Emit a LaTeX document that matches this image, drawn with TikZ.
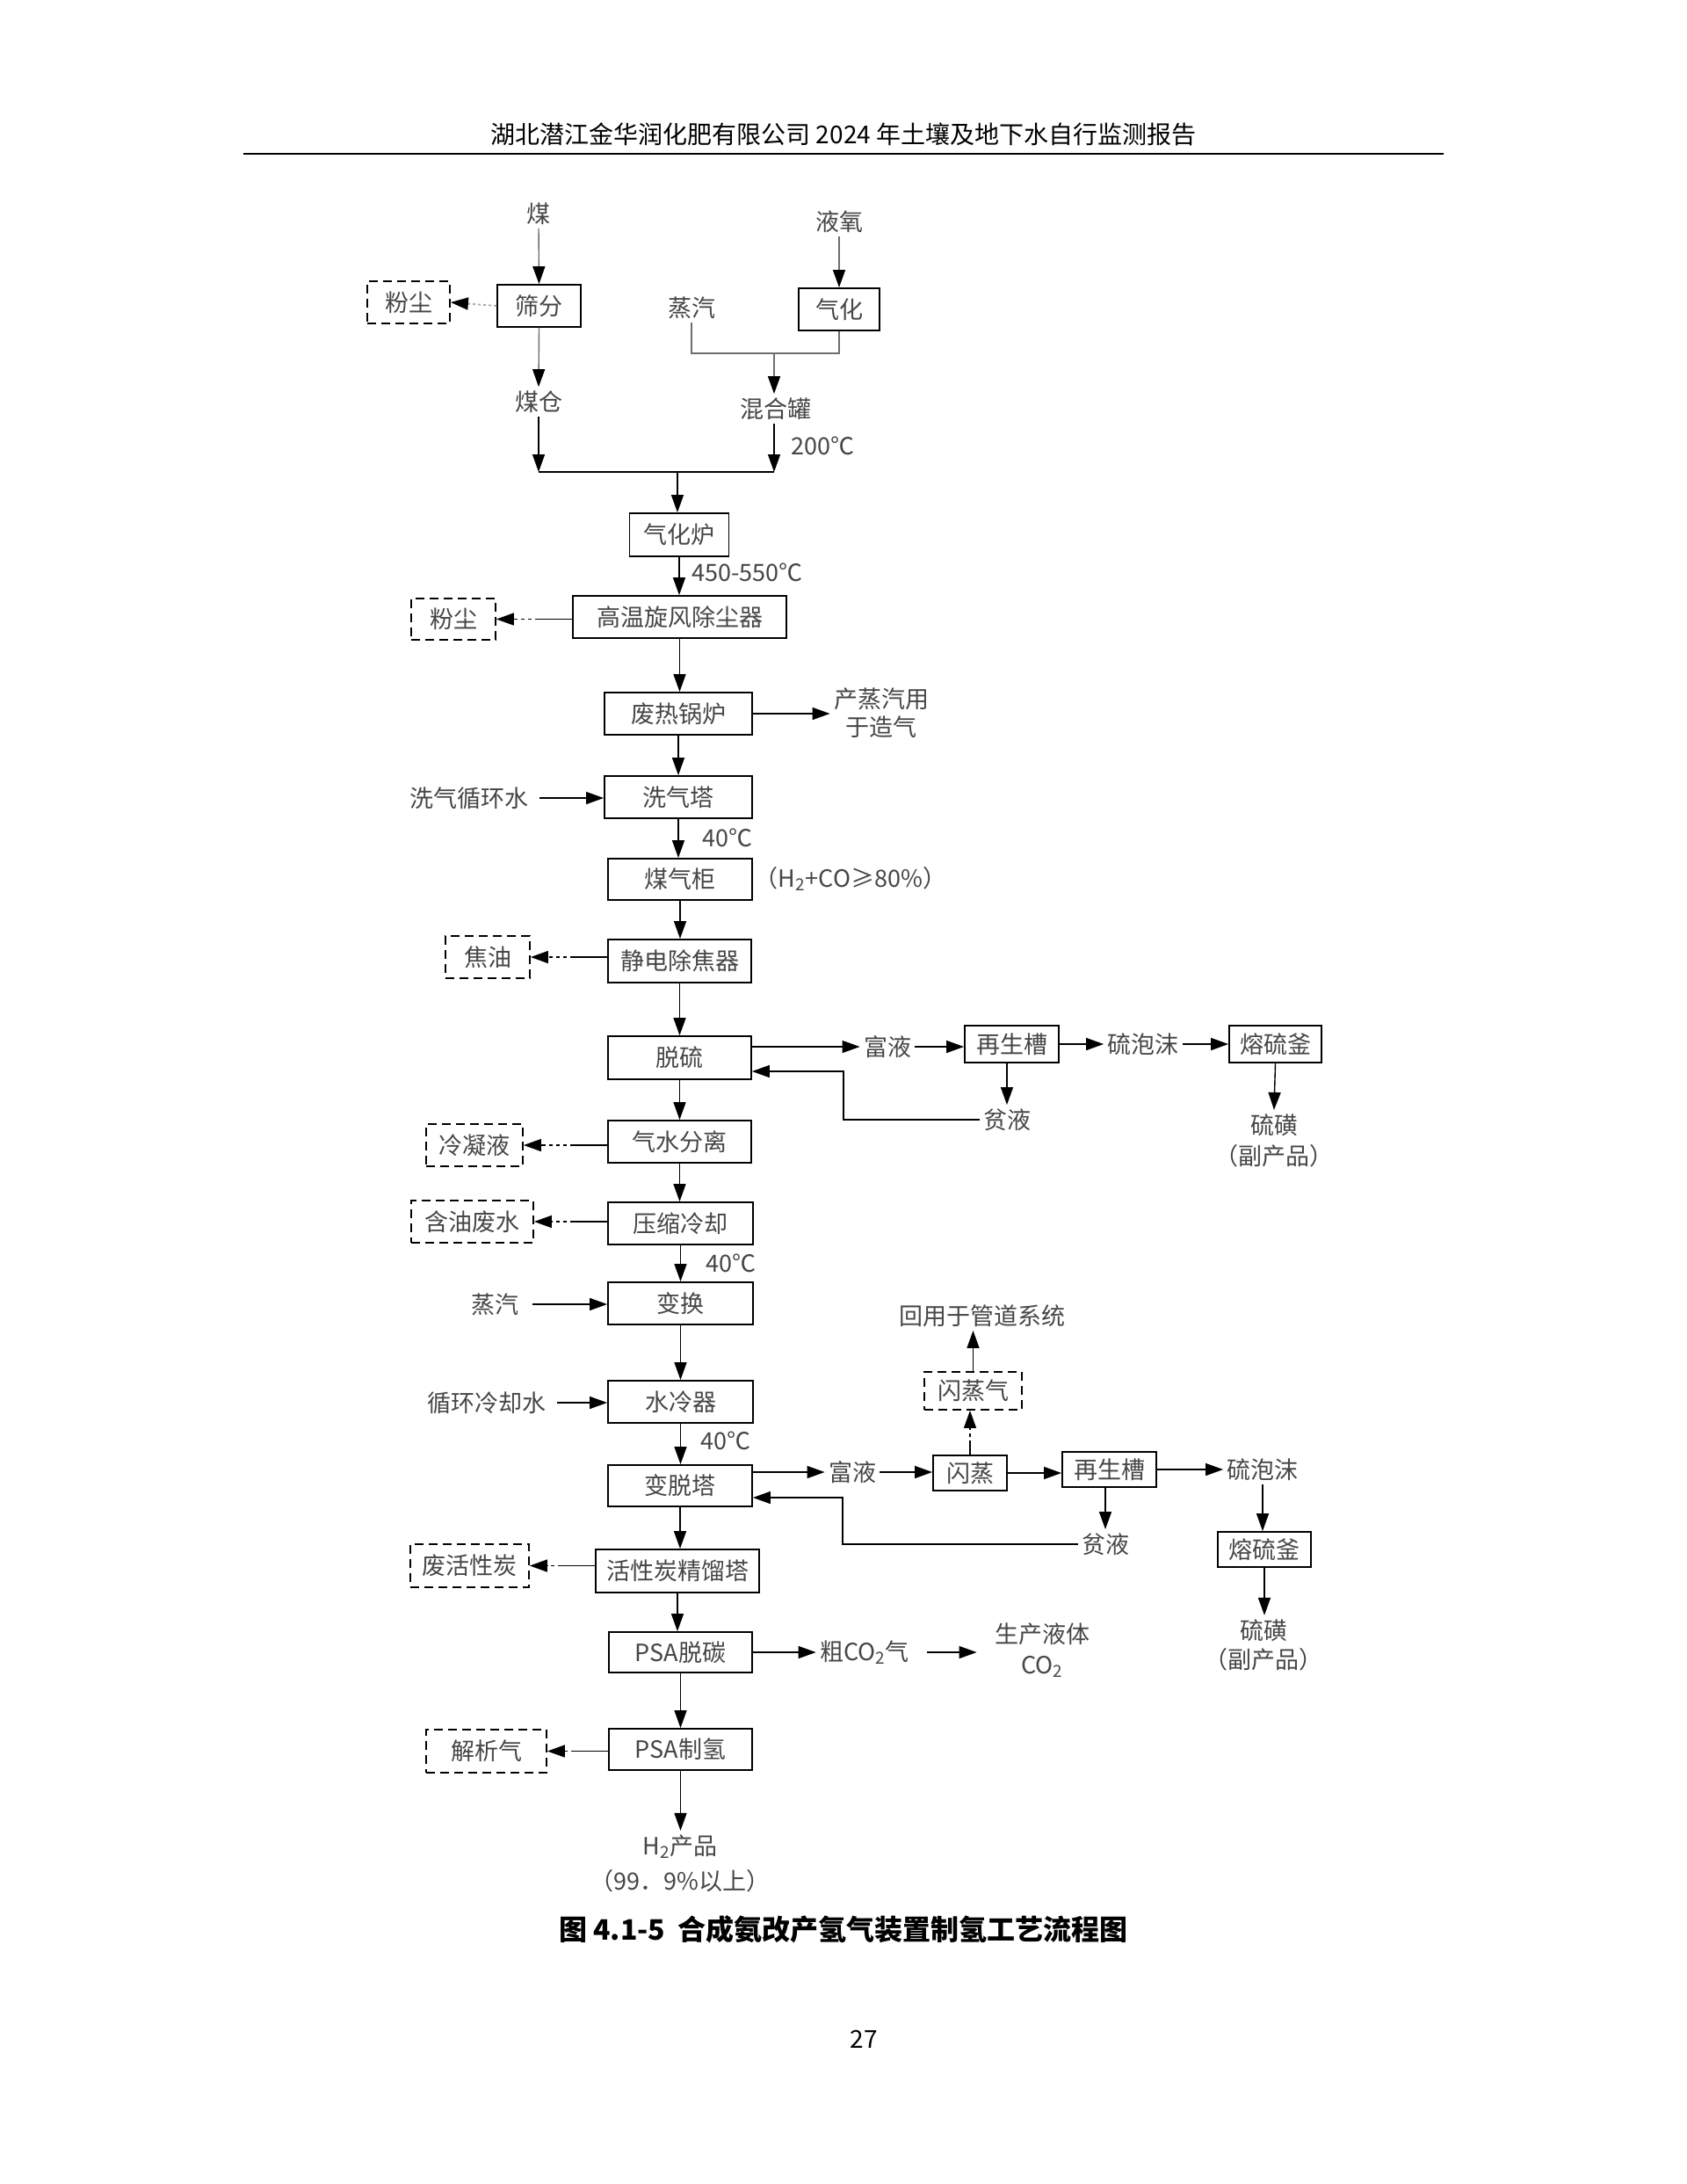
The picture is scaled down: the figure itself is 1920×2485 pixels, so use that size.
\documentclass[tikz,border=0pt]{standalone}
\usepackage{fontspec}
\setmainfont{Noto Sans CJK SC}
\usetikzlibrary{arrows.meta,calc}
\definecolor{txt}{RGB}{70,70,70}
\definecolor{lgray}{RGB}{110,110,110}
\definecolor{dgray}{RGB}{170,170,170}
\newcommand{\fs}{\fontsize{13.5pt}{17.5pt}\selectfont}
\begin{document}
\begin{tikzpicture}[x=0.5pt,y=-0.5pt,
  box/.style={draw, line width=0.9pt, inner sep=0pt, font=\fs, text=txt},
  dbox/.style={draw, line width=0.9pt, dash pattern=on 5pt off 3pt, inner sep=0pt, font=\fs, text=txt},
  lbl/.style={inner sep=2pt, font=\fs, text=txt, align=center},
  arr/.style={line width=0.7pt, -{Triangle[length=10pt,width=7pt]}},
  gline/.style={line width=0.7pt, draw=lgray},
  garr/.style={line width=0.7pt, draw=lgray, -{Triangle[length=10pt,width=7pt,color=black]}},
  gdot/.style={line width=0.9pt, draw=dgray, dash pattern=on 1.5pt off 1.5pt, -{Triangle[length=10pt,width=7pt,color=black]}},
  warr/.style={arr, dash pattern=on 21pt off 2pt on 2pt off 2pt on 2pt off 2pt on 2pt off 2pt on 30pt off 1pt},
]
\fill[white] (0,0) rectangle (1920,2485);
\useasboundingbox (0,0) rectangle (1920,2485);

% header
\node[font=\fontsize{14pt}{16pt}\selectfont] (hdr) at (960,153) {湖北潜江金华润化肥有限公司 2024 年土壤及地下水自行监测报告};
\draw[line width=1.2pt] (277,175) -- (1643,175);

% ---------- top part ----------
\node[lbl] (mei) at (613,243) {煤};
\node[box, minimum width=47.5pt, minimum height=24pt] (shaifen) at (613.5,348) {筛分};
\node[dbox, minimum width=47pt, minimum height=24pt] (fc1) at (465,344) {粉尘};
\node[lbl] (meicang) at (613,457) {煤仓};
\node[lbl] (yeyang) at (955,252) {液氧};
\node[box, minimum width=46pt, minimum height=24pt] (qihua) at (955,352) {气化};
\node[lbl] (zq1) at (787,350) {蒸汽};
\node[lbl] (hunhe) at (883,465) {混合罐};
\node[lbl, anchor=west] (t200) at (896,507) {200℃};
\coordinate (jl) at (613,537);
\coordinate (jr) at (881,537);
\coordinate (jm) at (771,537);
\coordinate (zjm) at (881,402);

\draw[garr] (mei.south) -- (shaifen.north);
\draw[garr] (shaifen.south) -- (meicang.north);
\draw[gdot] (shaifen.west) -- (fc1.east);
\draw[garr] (yeyang.south) -- (qihua.north);
\draw[gline] (zq1.south) -- (zq1.south |- zjm) -- (qihua.south |- zjm) -- (qihua.south);
\draw[garr] (zjm) -- (zjm |- hunhe.north);
\draw[arr] (meicang.south) -- (jl);
\draw[arr] (jr |- hunhe.south) -- (jr);
\draw[line width=0.7pt] (jl) -- (jr);

% ---------- main column ----------
\node[box, minimum width=56.5pt, minimum height=24.5pt] (qihualu) at (773,608.5) {气化炉};
\draw[arr] (jm) -- (jm |- qihualu.north);
\node[lbl, anchor=west] (t450) at (783,651) {450-550℃};
\node[box, minimum width=121.5pt, minimum height=24pt] (gaowen) at (773.5,702) {高温旋风除尘器};
\node[dbox, minimum width=48pt, minimum height=23.5pt] (fc2) at (516,704.5) {粉尘};
\node[box, minimum width=84pt, minimum height=24pt] (feire) at (772,812) {废热锅炉};
\node[lbl, font=\fontsize{13.5pt}{16pt}\selectfont] (czq) at (1003,811) {产蒸汽用\\于造气};
\node[box, minimum width=84pt, minimum height=24pt] (xiqita) at (772,907) {洗气塔};
\node[lbl] (xqxh) at (534,908) {洗气循环水};
\node[lbl, anchor=west] (t40a) at (795,953) {40℃};
\node[box, minimum width=82pt, minimum height=23.5pt] (meiqigui) at (774,1000.5) {煤气柜};
\node[lbl] (h2co) at (968,1000) {（H\textsubscript{2}+CO≥80\%）};
\node[box, minimum width=81.5pt, minimum height=24.5pt] (jingdian) at (773.5,1093.5) {静电除焦器};
\node[dbox, minimum width=48pt, minimum height=24pt] (jiaoyou) at (555,1089) {焦油};
\node[box, minimum width=81.5pt, minimum height=24.5pt] (tuoliu) at (773.5,1203.5) {脱硫};
\node[lbl] (fuye1) at (1010,1191) {富液};
\node[box, minimum width=53.5pt, minimum height=21pt] (zs1) at (1151.5,1188) {再生槽};
\node[lbl] (lpm1) at (1301,1188) {硫泡沫};
\node[box, minimum width=52.5pt, minimum height=21pt] (rl1) at (1451.5,1188) {熔硫釜};
\node[lbl] (lh1) at (1450,1297.5) {硫磺\\（副产品）};
\node[lbl] (pinye1) at (1146,1274) {贫液};
\coordinate (r1) at (960,1219);
\node[box, minimum width=81.5pt, minimum height=24pt] (qishui) at (773.5,1299) {气水分离};
\node[dbox, minimum width=55pt, minimum height=24pt] (lengning) at (540,1303) {冷凝液};
\node[box, minimum width=82.5pt, minimum height=24pt] (yasuo) at (774.5,1392) {压缩冷却};
\node[dbox, minimum width=69.5pt, minimum height=24pt] (hanyou) at (537.5,1390) {含油废水};
\node[lbl, anchor=west] (t40b) at (799,1437) {40℃};
\node[box, minimum width=82.5pt, minimum height=24pt] (bianhuan) at (774.5,1483) {变换};
\node[lbl] (zq2) at (563,1484) {蒸汽};
\node[box, minimum width=82.5pt, minimum height=24pt] (shuileng) at (774.5,1595) {水冷器};
\node[lbl] (xhls) at (554,1596) {循环冷却水};
\node[lbl, anchor=west] (t40c) at (793,1639) {40℃};
\node[box, minimum width=82pt, minimum height=23.5pt] (biantuo) at (774,1690.5) {变脱塔};
\node[lbl] (fuye2) at (970,1675) {富液};
\node[box, minimum width=42pt, minimum height=20pt] (shanzheng) at (1104,1676) {闪蒸};
\node[dbox, minimum width=55.5pt, minimum height=21.5pt] (sqq) at (1107.5,1582.5) {闪蒸气};
\node[lbl] (huiyong) at (1118,1497) {回用于管道系统};
\node[box, minimum width=53.5pt, minimum height=20pt] (zs2) at (1262.5,1672) {再生槽};
\node[lbl] (lpm2) at (1437,1672) {硫泡沫};
\node[box, minimum width=53pt, minimum height=20pt] (rl2) at (1439,1763) {熔硫釜};
\node[lbl, font=\fontsize{13.5pt}{16.5pt}\selectfont] (lh2) at (1438,1871.5) {硫磺\\（副产品）};
\node[lbl] (pinye2) at (1258,1757) {贫液};
\coordinate (r2) at (959,1704);
\node[box, minimum width=93pt, minimum height=24.5pt] (huoxing) at (771,1787.5) {活性炭精馏塔};
\node[dbox, minimum width=67.5pt, minimum height=24.5pt] (feihx) at (534.5,1781.5) {废活性炭};
\node[box, minimum width=81.5pt, minimum height=23pt] (psa1) at (774.5,1880) {PSA脱碳};
\node[lbl] (cuco2) at (984,1880) {粗CO\textsubscript{2}气};
\node[lbl] (shengchan) at (1186,1877.5) {生产液体\\CO\textsubscript{2}};
\node[box, minimum width=81.5pt, minimum height=23.5pt] (psa2) at (774.5,1990.5) {PSA制氢};
\node[dbox, minimum width=68.5pt, minimum height=24.5pt] (jiexi) at (553.5,1992.5) {解析气};
\node[lbl, font=\fontsize{13.5pt}{20pt}\selectfont] (h2) at (774,2120) {H\textsubscript{2}产品\\（99．9\%以上）};

% main chain arrows
\draw[arr] (qihualu.south) -- (qihualu.south |- gaowen.north);
\draw[arr] (gaowen.south) -- (gaowen.south |- feire.north);
\draw[arr] (feire.south) -- (feire.south |- xiqita.north);
\draw[arr] (xiqita.south) -- (xiqita.south |- meiqigui.north);
\draw[arr] (meiqigui.south) -- (meiqigui.south |- jingdian.north);
\draw[arr] (jingdian.south) -- (jingdian.south |- tuoliu.north);
\draw[arr] (tuoliu.south) -- (tuoliu.south |- qishui.north);
\draw[arr] (qishui.south) -- (qishui.south |- yasuo.north);
\draw[arr] (yasuo.south) -- (yasuo.south |- bianhuan.north);
\draw[arr] (bianhuan.south) -- (bianhuan.south |- shuileng.north);
\draw[arr] (shuileng.south) -- (shuileng.south |- biantuo.north);
\draw[arr] (biantuo.south) -- (biantuo.south |- huoxing.north);
\draw[arr] (huoxing.south) -- (huoxing.south |- psa1.north);
\draw[arr] (psa1.south) -- (psa1.south |- psa2.north);
\draw[arr] (psa2.south) -- (psa2.south |- h2.north);

% side inputs / outputs
\draw[arr] (feire.east) -- (czq.west |- feire.east);
\draw[arr, shorten <=4pt] (xqxh.east) -- (xiqita.west |- xqxh.east);
\draw[arr, shorten <=6pt] (zq2.east) -- (bianhuan.west |- zq2.east);
\draw[arr, shorten <=4pt] (xhls.east) -- (shuileng.west |- xhls.east);

% waste arrows
\draw[warr] (fc2.east -| gaowen.west) -- (fc2.east);
\draw[warr] (jiaoyou.east -| jingdian.west) -- (jiaoyou.east);
\draw[warr] (lengning.east -| qishui.west) -- (lengning.east);
\draw[warr] (hanyou.east -| yasuo.west) -- (hanyou.east);
\draw[warr] (feihx.east -| huoxing.west) -- (feihx.east);
\draw[warr] (jiexi.east -| psa2.west) -- (jiexi.east);

% desulfurisation loop
\draw[arr] (tuoliu.east |- fuye1.west) -- (fuye1.west);
\draw[arr] (fuye1.east) -- (zs1.west |- fuye1.east);
\draw[arr] (zs1.east) -- (lpm1.west);
\draw[arr] (lpm1.east) -- (rl1.west);
\draw[arr] (rl1.south) -- (lh1.north);
\draw[arr] (pinye1.north |- zs1.south) -- (pinye1.north);
\draw[arr] (pinye1.west) -| (r1) -- (r1 -| tuoliu.east);

% decarbonisation loop
\draw[arr] (biantuo.east |- fuye2.west) -- (fuye2.west);
\draw[arr] (fuye2.east) -- (shanzheng.west |- fuye2.east);
\draw[arr] (shanzheng.east) -- (zs2.west |- shanzheng.east);
\draw[arr] (zs2.east) -- (lpm2.west |- zs2.east);
\draw[arr] (lpm2.south) -- (lpm2.south |- rl2.north);
\draw[arr] (rl2.south) -- (rl2.south |- lh2.north);
\draw[arr] (pinye2.north |- zs2.south) -- (pinye2.north);
\draw[arr] (pinye2.west) -| (r2) -- (r2 -| biantuo.east);
\draw[warr, dash pattern=on 8pt off 2pt on 2pt off 2pt on 2pt off 2pt on 30pt off 1pt] (shanzheng.north) -- (shanzheng.north |- sqq.south);
\draw[arr] (sqq.north) -- (sqq.north |- huiyong.south);

% CO2
\draw[arr] (psa1.east) -- (cuco2.west |- psa1.east);
\draw[arr, shorten <=8pt, shorten >=8pt] (cuco2.east) -- (shengchan.west |- cuco2.east);

% caption and page number
\node[font=\fontsize{16pt}{18pt}\selectfont\bfseries] (cap) at (960,2195) {图 4.1-5\ \ 合成氨改产氢气装置制氢工艺流程图};
\node[font=\fontsize{14pt}{16pt}\selectfont] (pg) at (983,2320) {27};
\end{tikzpicture}
\end{document}
